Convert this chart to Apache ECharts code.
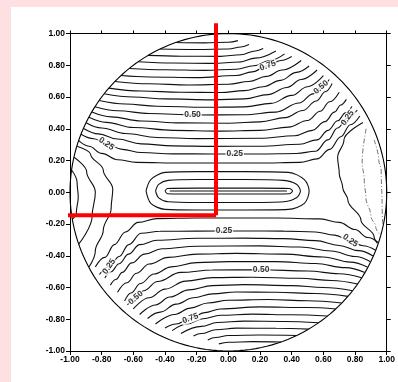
<!DOCTYPE html>
<html>
<head>
<meta charset="utf-8">
<script src="https://cdn.jsdelivr.net/npm/echarts@6/dist/echarts.min.js"></script>
<style>
  html, body { margin: 0; padding: 0; background: #ffe0e2; }
  #chart { width: 398px; height: 382px; }
</style>
</head>
<body>
<div id="chart"></div>
<script>
// Axis ticks
const tickValues = [-1, -0.8, -0.6, -0.4, -0.2, 0, 0.2, 0.4, 0.6, 0.8, 1];
const tickLabels = ['-1.00', '-0.80', '-0.60', '-0.40', '-0.20', '0.00', '0.20', '0.40', '0.60', '0.80', '1.00'];

// Domain boundary: unit circle [cx, cy, r]
const boundary = [[0, 0, 1]];

// Upper contour family (x, y)
const u20 = [[-0.945,0.325],[-0.88,0.29],[-0.8,0.245],[-0.7,0.205],[-0.58,0.188],[-0.3,0.184],[0.2,0.184],[0.45,0.188],[0.56,0.21],[0.64,0.27],[0.71,0.35],[0.77,0.425],[0.83,0.48]];
const u25 = [[-0.93,0.365],[-0.85,0.337],[-0.77,0.305],[-0.67,0.27],[-0.55,0.25],[-0.35,0.242],[-0.1,0.241],[0.2,0.241],[0.43,0.244],[0.55,0.258],[0.629,0.33],[0.689,0.405],[0.753,0.468],[0.814,0.518]];
const u30 = [[-0.914,0.402],[-0.82,0.368],[-0.7,0.335],[-0.55,0.305],[-0.35,0.292],[-0.1,0.289],[0.2,0.29],[0.45,0.302],[0.56,0.33],[0.63,0.39],[0.69,0.45],[0.74,0.5],[0.78,0.54]];
const u35 = [[-0.898,0.438],[-0.8,0.405],[-0.65,0.37],[-0.45,0.345],[-0.2,0.338],[0.2,0.34],[0.42,0.356],[0.53,0.39],[0.61,0.445],[0.67,0.505],[0.71,0.55],[0.745,0.585]];
const u40 = [[-0.88,0.472],[-0.77,0.44],[-0.6,0.408],[-0.35,0.39],[-0.05,0.385],[0.2,0.39],[0.38,0.41],[0.5,0.452],[0.58,0.51],[0.64,0.57],[0.7,0.63]];
const u45 = [[-0.862,0.505],[-0.74,0.475],[-0.55,0.449],[-0.3,0.437],[0,0.435],[0.2,0.443],[0.36,0.47],[0.47,0.515],[0.555,0.575],[0.615,0.635],[0.655,0.685]];
const u50 = [[-0.842,0.538],[-0.7,0.513],[-0.5,0.496],[-0.2,0.487],[0.1,0.488],[0.3,0.505],[0.447,0.562],[0.535,0.62],[0.585,0.661],[0.637,0.71]];
const u55 = [[-0.816,0.578],[-0.65,0.556],[-0.45,0.542],[-0.15,0.535],[0.1,0.538],[0.27,0.56],[0.4,0.61],[0.5,0.665],[0.6,0.735]];
const u60 = [[-0.785,0.62],[-0.6,0.6],[-0.4,0.588],[-0.1,0.582],[0.1,0.588],[0.25,0.615],[0.37,0.66],[0.46,0.71],[0.56,0.77]];
const u65 = [[-0.755,0.656],[-0.55,0.638],[-0.3,0.63],[-0.05,0.628],[0.1,0.64],[0.22,0.665],[0.33,0.705],[0.43,0.755],[0.51,0.795]];
const u70 = [[-0.716,0.698],[-0.5,0.683],[-0.25,0.676],[0,0.68],[0.13,0.698],[0.24,0.73],[0.34,0.77],[0.46,0.83]];
const u75 = [[-0.678,0.735],[-0.5,0.726],[-0.2,0.722],[0.05,0.735],[0.15,0.758],[0.249,0.797],[0.33,0.83],[0.4,0.855]];
const u80 = [[-0.626,0.78],[-0.4,0.772],[-0.15,0.768],[0.05,0.775],[0.16,0.797],[0.26,0.83],[0.355,0.872]];
const u85 = [[-0.569,0.822],[-0.35,0.814],[-0.1,0.812],[0.07,0.82],[0.17,0.845],[0.3,0.89]];
const u90 = [[-0.507,0.862],[-0.3,0.857],[-0.05,0.856],[0.08,0.866],[0.17,0.89],[0.22,0.905]];
const u95 = [[-0.432,0.902],[-0.2,0.899],[0,0.902],[0.08,0.915],[0.13,0.93]];
const u100 = [[-0.333,0.943],[-0.15,0.941],[0,0.945],[0.06,0.955]];

// Lower contour family (x, y)
const l20 = [[-0.84,-0.47],[-0.78,-0.41],[-0.72,-0.33],[-0.65,-0.25],[-0.57,-0.19],[-0.45,-0.166],[-0.2,-0.162],[0.3,-0.162],[0.58,-0.168],[0.7,-0.19],[0.8,-0.235],[0.88,-0.285],[0.948,-0.318]];
const l25 = [[-0.814,-0.518],[-0.753,-0.468],[-0.689,-0.405],[-0.629,-0.33],[-0.55,-0.258],[-0.43,-0.246],[-0.2,-0.245],[0.1,-0.244],[0.35,-0.245],[0.55,-0.25],[0.67,-0.27],[0.77,-0.305],[0.85,-0.337],[0.93,-0.365]];
const l30 = [[-0.78,-0.54],[-0.74,-0.5],[-0.69,-0.45],[-0.63,-0.39],[-0.56,-0.33],[-0.45,-0.302],[-0.2,-0.29],[0.1,-0.289],[0.35,-0.292],[0.55,-0.305],[0.7,-0.335],[0.82,-0.368],[0.914,-0.402]];
const l35 = [[-0.745,-0.585],[-0.71,-0.55],[-0.67,-0.505],[-0.61,-0.445],[-0.53,-0.39],[-0.42,-0.356],[-0.2,-0.34],[0.2,-0.338],[0.45,-0.345],[0.65,-0.37],[0.8,-0.405],[0.898,-0.438]];
const l40 = [[-0.7,-0.63],[-0.64,-0.57],[-0.58,-0.51],[-0.5,-0.452],[-0.38,-0.41],[-0.2,-0.39],[0.05,-0.385],[0.35,-0.39],[0.6,-0.408],[0.77,-0.44],[0.88,-0.472]];
const l45 = [[-0.655,-0.685],[-0.615,-0.635],[-0.555,-0.575],[-0.47,-0.515],[-0.36,-0.47],[-0.2,-0.443],[0,-0.437],[0.3,-0.437],[0.55,-0.449],[0.74,-0.475],[0.862,-0.505]];
const l50 = [[-0.637,-0.71],[-0.585,-0.665],[-0.535,-0.62],[-0.447,-0.562],[-0.3,-0.505],[-0.1,-0.49],[0.2,-0.488],[0.5,-0.496],[0.7,-0.513],[0.842,-0.538]];
const l55 = [[-0.6,-0.735],[-0.5,-0.665],[-0.4,-0.61],[-0.27,-0.56],[-0.1,-0.538],[0.15,-0.535],[0.45,-0.542],[0.65,-0.556],[0.816,-0.578]];
const l60 = [[-0.56,-0.77],[-0.46,-0.71],[-0.37,-0.66],[-0.25,-0.615],[-0.1,-0.588],[0.1,-0.582],[0.4,-0.588],[0.6,-0.6],[0.785,-0.62]];
const l65 = [[-0.51,-0.795],[-0.43,-0.755],[-0.33,-0.705],[-0.22,-0.665],[-0.1,-0.64],[0.05,-0.628],[0.3,-0.63],[0.55,-0.638],[0.755,-0.656]];
const l70 = [[-0.46,-0.83],[-0.34,-0.77],[-0.24,-0.73],[-0.13,-0.698],[0,-0.68],[0.25,-0.676],[0.5,-0.683],[0.716,-0.698]];
const l75 = [[-0.4,-0.855],[-0.33,-0.83],[-0.24,-0.795],[-0.15,-0.758],[-0.05,-0.735],[0.2,-0.722],[0.5,-0.726],[0.678,-0.735]];
const l80 = [[-0.355,-0.872],[-0.26,-0.83],[-0.16,-0.797],[-0.05,-0.775],[0.15,-0.768],[0.4,-0.772],[0.626,-0.78]];
const l85 = [[-0.3,-0.89],[-0.17,-0.845],[-0.07,-0.82],[0.1,-0.812],[0.35,-0.814],[0.569,-0.822]];
const l90 = [[-0.22,-0.905],[-0.17,-0.89],[-0.08,-0.866],[0.05,-0.856],[0.3,-0.857],[0.507,-0.862]];
const l95 = [[-0.13,-0.93],[-0.08,-0.915],[0,-0.902],[0.2,-0.899],[0.432,-0.902]];
const l100 = [[-0.06,-0.955],[0,-0.945],[0.15,-0.941],[0.333,-0.943]];

// Closed contours around the slit
const slit = [[-0.4,0.008],[-0.385,0.024],[-0.2,0.026],[0,0.026],[0.2,0.026],[0.385,0.024],[0.405,0.008],[0.385,-0.009],[0.2,-0.011],[0,-0.011],[-0.2,-0.011],[-0.385,-0.009],[-0.4,0.008]];
const slitCore = [[-0.37,0.008],[0.37,0.008]];
const loopA = [[-0.46,0.008],[-0.44,0.05],[-0.38,0.075],[-0.2,0.08],[0.1,0.08],[0.35,0.075],[0.43,0.05],[0.455,0.008],[0.43,-0.035],[0.35,-0.06],[0.1,-0.065],[-0.2,-0.065],[-0.38,-0.06],[-0.44,-0.035],[-0.46,0.008]];
const loopB = [[-0.52,0.008],[-0.49,0.08],[-0.4,0.125],[-0.2,0.13],[0.1,0.13],[0.38,0.125],[0.48,0.08],[0.51,0.008],[0.48,-0.07],[0.38,-0.108],[0.1,-0.112],[-0.2,-0.112],[-0.4,-0.108],[-0.49,-0.07],[-0.52,0.008]];

// Side contours, left (solid) and right (solid inner, dash-dot outer)
const sideL1 = [[-0.99,0.14],[-0.955,0.06],[-0.948,-0.03],[-0.96,-0.13],[-0.985,-0.17]];
const sideL2 = [[-0.975,0.22],[-0.895,0.13],[-0.84,0.0],[-0.86,-0.15],[-0.945,-0.327]];
const sideL3 = [[-0.955,0.29],[-0.87,0.24],[-0.79,0.14],[-0.73,0.02],[-0.74,-0.1],[-0.79,-0.24],[-0.84,-0.37],[-0.88,-0.47]];
const sideR1 = [[0.85,0.44],[0.73,0.33],[0.69,0.22],[0.7,0.12],[0.722,0.03],[0.755,-0.05],[0.837,-0.175],[0.92,-0.28],[0.94,-0.32]];
const sideR2 = [[0.87,0.4],[0.845,0.19],[0.858,0.076],[0.868,-0.03],[0.9,-0.15],[0.93,-0.217],[0.96,-0.27]];
const sideR3 = [[0.92,0.33],[0.95,0.2],[0.965,0.14],[0.971,-0.09],[0.975,-0.2]];

// Level labels: [x, y, text, angle]
const levelLabels = [
  [0.249, 0.797, '0.75', 20],
  [0.585, 0.661, '0.50', 40],
  [0.753, 0.468, '0.25', 55],
  [-0.226, 0.487, '0.50', 0],
  [0.04, 0.241, '0.25', 0],
  [-0.77, 0.305, '0.25', -35],
  [-0.028, -0.245, '0.25', 0],
  [0.207, -0.488, '0.50', 0],
  [-0.753, -0.468, '0.25', 55],
  [-0.585, -0.665, '0.50', 40],
  [-0.24, -0.795, '0.75', 20],
  [0.77, -0.305, '0.25', -35]
];

// Section markers
const markerV = [[-0.078, 1.065], [-0.078, -0.145]];
const markerH = [[-1.068, -0.145], [-0.078, -0.145]];

const familyLines = [u20,u25,u30,u35,u40,u45,u50,u55,u60,u65,u70,u75,u80,u85,u90,u95,u100,
  l20,l25,l30,l35,l40,l45,l50,l55,l60,l65,l70,l75,l80,l85,l90,l95,l100];
const closedLines = [loopA, loopB, slit, slitCore];
const sideLines = [sideL1, sideL2, sideL3, sideR1];
const dashedLines = [sideR2, sideR3];

const FONT = '"Liberation Sans", Arial, sans-serif';
const chart = echarts.init(document.getElementById('chart'), null, { renderer: 'canvas' });

const SOLID = { color: '#111', width: 1.1 };
const DASHED = { color: '#666', width: 0.9, type: [5, 2, 1, 2] };
const lineSeries = (pts, style, monotone, smooth) => ({
  type: 'line', data: pts, smooth: smooth, smoothMonotone: monotone, symbol: 'none', silent: true,
  lineStyle: style, z: 3
});

const tickFmt = v => {
  const i = tickValues.findIndex(t => Math.abs(t - v) < 1e-6);
  return i >= 0 ? tickLabels[i] : '';
};

const axisCommon = {
  type: 'value', min: -1, max: 1, interval: 0.2,
  splitLine: { show: false },
  axisLine: { show: true, onZero: false, lineStyle: { color: '#000', width: 1 } },
};
const labelStyle = { formatter: tickFmt, fontFamily: FONT, fontWeight: 'bold', fontSize: 8.5, color: '#000' };

chart.setOption({
  backgroundColor: '#ffe0e2',
  animation: false,
  graphic: [{ type: 'rect', left: 11, top: 7, shape: { width: 387, height: 375 }, style: { fill: '#fff' }, z: -10, silent: true }],
  grid: { left: 70, top: 33.5, width: 323, height: 317.5, containLabel: false },
  xAxis: [
    Object.assign({}, axisCommon, { position: 'bottom',
      axisTick: { show: true, length: 4, inside: false, lineStyle: { color: '#000' } },
      axisLabel: Object.assign({}, labelStyle, { margin: 4 }) }),
    Object.assign({}, axisCommon, { position: 'top',
      axisTick: { show: true, length: 3, inside: false, lineStyle: { color: '#000' } },
      axisLabel: { show: false } })
  ],
  yAxis: [
    Object.assign({}, axisCommon, { position: 'left',
      axisTick: { show: true, length: 4, inside: false, lineStyle: { color: '#000' } },
      axisLabel: Object.assign({}, labelStyle, { margin: 5 }) }),
    Object.assign({}, axisCommon, { position: 'right',
      axisTick: { show: true, length: 4, inside: false, lineStyle: { color: '#000' } },
      axisLabel: { show: false } })
  ],
  series: [
    {
      type: 'custom', data: boundary, silent: true, z: 2,
      renderItem: (params, api) => {
        const cx = api.value(0), cy = api.value(1), r = api.value(2);
        const pts = [];
        for (let k = 0; k <= 180; k++) {
          const a = (k / 180) * Math.PI * 2;
          pts.push(api.coord([cx + r * Math.cos(a), cy + r * Math.sin(a)]));
        }
        return { type: 'polyline', shape: { points: pts }, style: { stroke: '#000', lineWidth: 1.1, fill: null } };
      }
    },
    ...familyLines.map(p => lineSeries(p, SOLID, 'x', 0.4)),
    ...closedLines.map(p => lineSeries(p, SOLID, null, 0.3)),
    ...sideLines.map(p => lineSeries(p, SOLID, 'y', 0.4)),
    ...dashedLines.map(p => lineSeries(p, DASHED, 'y', 0.4)),
    {
      type: 'scatter', symbolSize: 0, silent: true, z: 5,
      data: levelLabels.map(l => ({ value: [l[0], l[1]], name: l[2],
        label: { show: true, position: 'inside', formatter: l[2], rotate: l[3],
          fontFamily: FONT, fontWeight: 'bold', fontSize: 8.5, color: '#000',
          backgroundColor: '#fff', padding: [0, 1] } }))
    },
    { type: 'line', data: markerV, symbol: 'none', clip: false, silent: true, z: 10, lineStyle: { color: '#ff0000', width: 4 } },
    { type: 'line', data: markerH, symbol: 'none', clip: false, silent: true, z: 10, lineStyle: { color: '#ff0000', width: 4 } }
  ]
});
</script>
</body>
</html>
